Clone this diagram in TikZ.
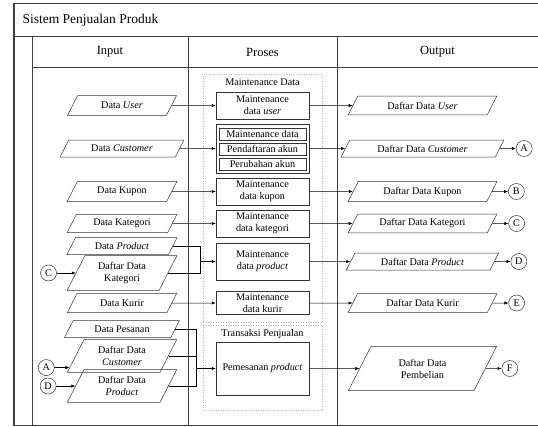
\documentclass[tikz,border=0pt]{standalone}
\usepackage{fontspec}
\setmainfont{Liberation Serif}
\usetikzlibrary{positioning,shapes.geometric,arrows.meta,calc}

\tikzset{
  txt/.style={font=\rmfamily\fontsize{10.2}{12}\selectfont},
  para/.style={txt, trapezium, trapezium left angle=63, trapezium right angle=117,
    draw=black!80, line width=0.5pt, align=center, inner ysep=2pt, minimum height=17pt},
  inpara/.style={para, minimum width=110pt},
  outpara/.style={para, minimum width=149pt},
  procbox/.style={txt, draw=black!80, line width=0.5pt, align=center, inner ysep=1pt, minimum width=93pt},
  subbox/.style={txt, draw=black!80, line width=0.5pt, minimum width=87pt, minimum height=12pt, inner sep=0pt},
  grp/.style={draw=black!30, dotted, line width=0.5pt},
  conn/.style={txt, circle, draw=black!80, line width=0.5pt, minimum size=16pt, inner sep=0pt},
  arr/.style={-{Latex[length=4pt,width=3.2pt]}, line width=0.5pt},
  lane/.style={line width=0.7pt, black!75},
  head/.style={font=\rmfamily\fontsize{12.5}{14}\selectfont},
}

\begin{document}
\begin{tikzpicture}[x=1pt,y=-1pt]
    \useasboundingbox (0,0) rectangle (538,426);
    % Lanes
    \draw[line width=1.4pt, black!75] (14,3) -- (14,425);
    \draw[lane] (13,3) -- (538,3);
    \draw[lane] (13,36) -- (538,36);
    \draw[lane] (13,425) -- (538,425);
    \draw[lane] (32,67) -- (538,67);
    \draw[lane] (32,36) -- (32,425);
    \draw[lane] (188,36) -- (188,425);
    \draw[lane] (337,36) -- (337,425);
    \node[anchor=west, font=\rmfamily\fontsize{13.5}{15}\selectfont] (title) at (19,20) {Sistem Penjualan Produk};
    \node[head] (hIn) at (110,52) {Input};
    \node[head] (hProc) at (262.5,52) {Proses};
    \node[head] (hOut) at (437.5,52) {Output};

    % Groups
    \node[grp, minimum width=119pt, minimum height=248pt] (gMaint) at (262.5,198) {};
    \node[txt, below=1pt of gMaint.north] (tMaint) {Maintenance Data};
    \node[grp, minimum width=119pt, minimum height=85pt] (gTrans) at (262.5,367.5) {};
    \node[txt, below=1pt of gTrans.north] (tTrans) {Transaksi Penjualan};

    % Proses
    \node[procbox, minimum height=27pt] (pUser) at (262.5,105.5) {Maintenance\\data \textit{user}};
    \node[procbox, minimum height=49pt] (pCust) at (262.5,148.5) {};
    \node[subbox] (sMaint) at (262.5,134) {Maintenance data};
    \node[subbox] (sDaftar) at (262.5,149) {Pendaftaran akun};
    \node[subbox] (sUbah) at (262.5,164) {Perubahan akun};
    \node[procbox, minimum height=27pt] (pKupon) at (262.5,191.5) {Maintenance\\data kupon};
    \node[procbox, minimum height=27pt] (pKat) at (262.5,223.5) {Maintenance\\data kategori};
    \node[procbox, minimum height=37pt] (pProd) at (262.5,261.5) {Maintenance\\data \textit{product}};
    \node[procbox, minimum height=23pt] (pKurir) at (262.5,303) {Maintenance\\data kurir};
    \node[procbox, minimum height=53pt] (pPesan) at (262.5,368.5) {Pemesanan \textit{product}};

    % Input
    \node[inpara] (iUser) at (122,105.5) {Data \textit{User}};
    \node[inpara] (iCust) at (122,148.5) {Data \textit{Customer}};
    \node[inpara] (iKupon) at (122,191.5) {Data Kupon};
    \node[inpara] (iKat) at (122,223.5) {Data Kategori};
    \node[inpara] (iProd) at (122,246) {Data \textit{Product}};
    \node[inpara] (iKat2) at (122,273) {Daftar Data\\Kategori};
    \node[inpara] (iKurir) at (122,303) {Data Kurir};
    \node[inpara] (iPesan) at (122,329) {Data Pesanan};
    \node[inpara] (iCust2) at (122,356) {Daftar Data\\\textit{Customer}};
    \node[inpara] (iProd2) at (122,386) {Daftar Data\\\textit{Product}};
    \coordinate (aIn) at ($(iCust2.bottom left corner)!0.15!(iCust2.top left corner)$);
    \node[conn, left=19pt of iKat2.west] (cC) {C};
    \node[conn, left=15pt of aIn] (cA) {A};
    \node[conn, left=19pt of iProd2.west] (cD) {D};

    % Output
    \node[outpara] (oUser) at (422.5,105.5) {Daftar Data \textit{User}};
    \node[outpara] (oCust) at (422.5,148.5) {Daftar Data \textit{Customer}};
    \node[outpara] (oKupon) at (422.5,191.5) {Daftar Data Kupon};
    \node[outpara] (oKat) at (422.5,223.5) {Daftar Data Kategori};
    \node[outpara] (oProd) at (422.5,261.5) {Daftar Data \textit{Product}};
    \node[outpara] (oKurir) at (422.5,303) {Daftar Data Kurir};
    \node[outpara] (oBeli) at (422.5,368.5) {Daftar Data\\Pembelian};
    \node[conn, right=16pt of oCust.east] (oA) {A};
    \node[conn, right=16pt of oKupon.east] (oB) {B};
    \node[conn, right=16pt of oKat.east] (oC) {C};
    \node[conn, right=16pt of oProd.east] (oD) {D};
    \node[conn, right=16pt of oKurir.east] (oE) {E};
    \node[conn, right=16pt of oBeli.east] (oF) {F};

    % Edges
    \draw[arr] (iUser.east) -- (pUser.west);
    \draw[arr] (iCust.east) -- (pCust.west);
    \draw[arr] (iKupon.east) -- (pKupon.west);
    \draw[arr] (iKat.east) -- (pKat.west);
    \draw[arr] (iKurir.east) -- (pKurir.west);
    \coordinate[left=16pt of pProd.west] (jProd);
    \draw (iProd.east) -| (jProd);
    \draw (iKat2.east) -| (jProd);
    \draw[arr] (jProd) -- (pProd.west);
    \coordinate[left=20pt of pPesan.west] (jPesan);
    \draw (iPesan.east) -| (jPesan);
    \draw (iCust2.east) -| (jPesan);
    \draw (iProd2.east) -| (jPesan);
    \draw[arr] (jPesan) -- (pPesan.west);
    \draw[arr] (cC) -- (iKat2.west);
    \draw[arr] (cA) -- (aIn);
    \draw[arr] (cD) -- (iProd2.west);
    \draw[arr] (pUser.east) -- (oUser.west);
    \draw[arr] (pCust.east) -- (oCust.west);
    \draw[arr] (pKupon.east) -- (oKupon.west);
    \draw[arr] (pKat.east) -- (oKat.west);
    \draw[arr] (pProd.east) -- (oProd.west);
    \draw[arr] (pKurir.east) -- (oKurir.west);
    \draw[arr] (pPesan.east) -- (oBeli.west);
    \draw[arr] (oCust) -- (oA);
    \draw[arr] (oKupon) -- (oB);
    \draw[arr] (oKat) -- (oC);
    \draw[arr] (oProd) -- (oD);
    \draw[arr] (oKurir) -- (oE);
    \draw[arr] (oBeli) -- (oF);
\end{tikzpicture}
\end{document}
